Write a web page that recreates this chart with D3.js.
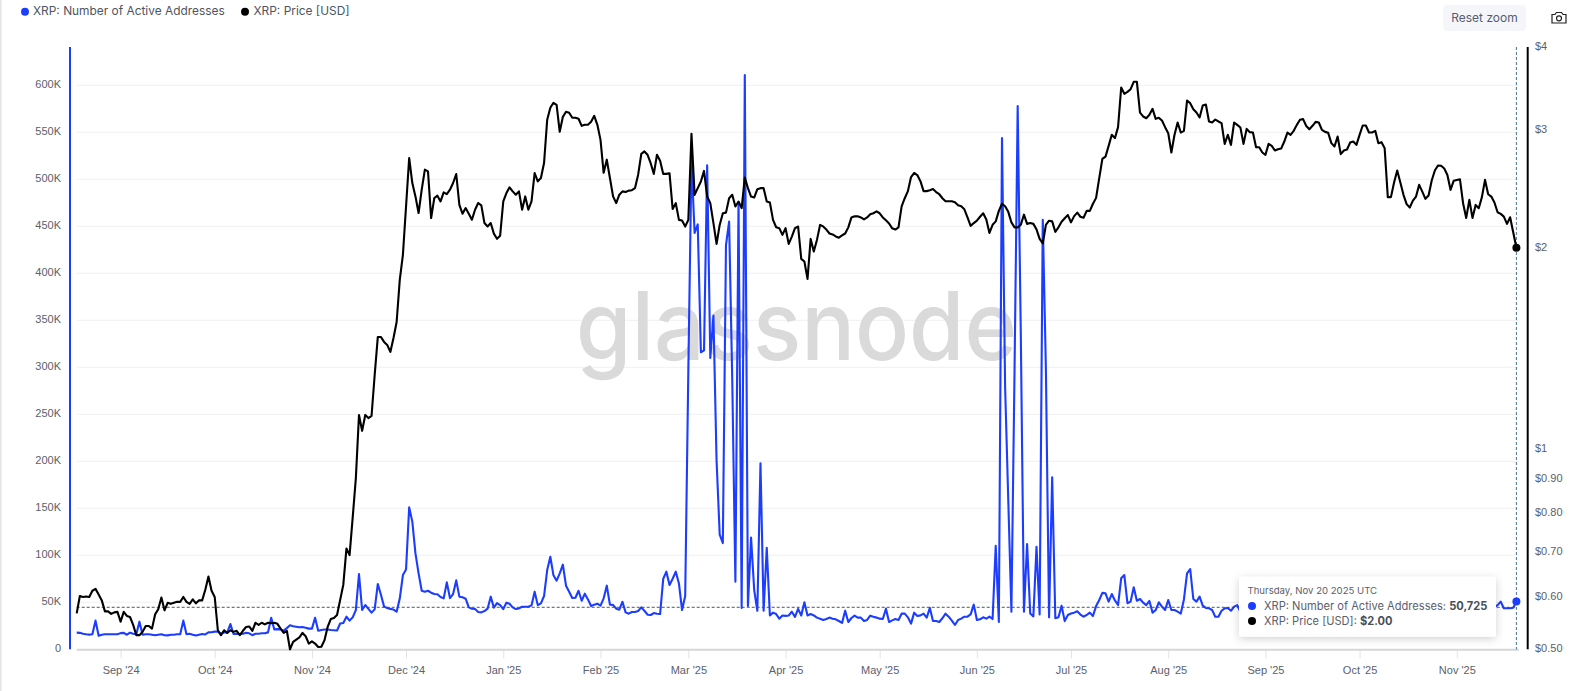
<!DOCTYPE html>
<html>
<head>
<meta charset="utf-8">
<style>
html,body{margin:0;padding:0;background:#fff;overflow:hidden}
svg{display:block;font-family:Inter,"Noto Sans",sans-serif}
</style>
<script src="https://d3js.org/d3.v7.min.js"></script>
</head>
<body>
<svg id="c" width="1579" height="691"></svg>
<script>
const startDate = "2024-08-18";
const endDate = "2025-11-20";
const monthTicks = ["2024-09-01","2024-10-01","2024-11-01","2024-12-01","2025-01-01","2025-02-01","2025-03-01","2025-04-01","2025-05-01","2025-06-01","2025-07-01","2025-08-01","2025-09-01","2025-10-01","2025-11-01"];
const leftTicks = [0,50,100,150,200,250,300,350,400,450,500,550,600];
const rightTicks = [0.5,0.6,0.7,0.8,0.9,1,2,3,4];
const rightTickLabels = ["$0.50","$0.60","$0.70","$0.80","$0.90","$1","$2","$3","$4"];
const crosshairActiveK = 44.7;
const seriesNames = ["XRP: Number of Active Addresses","XRP: Price [USD]"];
const tooltipDate = "Thursday, Nov 20 2025 UTC";
const tooltipValues = ["50,725","$2.00"];

// thousands of active addresses, one per day
const activeK = [
17.7,17.5,16.5,16,15.6,16,30.5,14.5,15.5,16,
16,16,16,16,17.2,17.5,15.5,17.7,16.5,16,
29.4,15.5,16,16,15.5,15,15.5,16,15,14.8,
15.5,15.5,16,16,30.5,16,16.5,15.5,14.7,15.5,
16.2,15.8,18,18.2,18.8,18.8,16.5,17.8,18,26.9,
16.3,16.5,16,16.5,17.5,17,15,16.5,16.5,17,
17,18,33.6,21.2,21.5,21.2,19.8,22.5,25.5,24.5,
24,23.5,23.8,23,22,22,33.6,19.8,20.5,21,
21,20.5,20.3,20,27.5,28,34.7,30.5,34,41.8,
80,41.8,47.1,43,39,42.5,69.5,58,45.4,44,
43,42.3,40,54,79,85,151,135.8,102,80.8,
62.3,61.3,62.3,60.2,58.8,58.5,55.6,54.2,71.2,54.5,
58.8,73.3,56,55.3,53.8,44.6,43.2,42.8,39.7,39.3,
40.7,43.2,56,44.3,49.2,47,42.8,49.6,48.5,44.6,
42.8,43.5,45.3,45.3,45.3,46.7,61.3,47,48.9,56.7,
84.3,98.5,78.7,73,80.8,90,67.7,61.3,54.5,54.9,
62.3,51.7,59.2,53.1,46,47.5,48.5,46.4,54.2,67.7,
47.5,47.1,43.2,42.1,50.6,39.3,37.9,39.7,39.7,40.7,
44.6,41,36.8,36.5,38.6,37.9,37.5,75.1,82.6,68.4,
75.1,82.6,70.1,41.8,56.7,297,520,443,452,316,
318,515,310,355,201,122,113,430,455,287,
72,475,44,611,46,119,63,41,198,41,
108,36,39,37.5,32.5,36,35.6,36,40,34.5,
43,36,50,36,37.5,36,33.7,32.5,31.2,32.2,
33.7,32.6,31.9,30.1,28,41.1,29,33.3,35.8,33.7,
33.7,30.1,31.2,35.8,34.7,33.7,32.6,32.2,43.2,29,
30.8,32.2,31.2,37.9,37.9,34,27.3,39,35.4,36.1,
37.9,33.7,44,30.1,30.1,29,33,37.9,34.7,30.5,
25.9,31.2,32.6,34.7,34.7,37.2,47.5,31.2,31.9,34,
32.6,34.7,32.2,110,29,544,278,159,40,297,
578,334,40,112,38,35,109,37,457,297,
34,183,33,34,46.4,30,36.5,38,39,40.4,
37,34.7,36.5,39,35.4,46,52.4,60,59.5,50.7,
58.8,52,47.1,75.5,79,49,50.7,66,51.7,53.5,
49.6,47,51.4,39,41.8,50,45.4,41.8,52.4,41.8,
41.8,40,38,53,80.8,85.4,53.5,50.7,56,46.4,
44,43.6,41.8,34.7,34.7,41,43.6,44,41,45.4,
47,40,44,46,42,48,45,41,47,43,
49,44,46,51,42,45,48,43,46,50,
44,42,47,52,45,43,49,46,41,45,
48,44,50,43,46,53,47,42,45,49,
44,47,52,43,41,48,46,50,45,43,
47,54,46,44,42,49,45,48,51,43,
46,44,50,47,42,45,52,48,43,46,
49,44,47,42,46,51,45,43,48,46,
44,49,45,47,50.7,43.6,43.6,43.6,44.3,50.725
];

// USD, one per day
const priceUsd = [
.566,.601,.599,.600,.599,.612,.616,.604,.592,.570,
.570,.565,.568,.569,.550,.569,.561,.559,.544,.525,
.525,.531,.542,.542,.537,.564,.574,.598,.572,.587,
.585,.587,.589,.589,.599,.589,.585,.594,.586,.592,
.592,.614,.643,.612,.599,.534,.525,.534,.529,.534,
.531,.533,.525,.533,.540,.541,.533,.548,.544,.548,
.545,.548,.547,.548,.546,.537,.529,.533,.500,.513,
.517,.521,.529,.523,.510,.514,.510,.504,.5045,.516,
.540,.555,.557,.563,.593,.625,.708,.692,.789,.903,
1.123,1.063,1.123,1.111,1.119,1.289,1.470,1.470,1.445,1.43,
1.396,1.465,1.548,1.79,1.952,2.306,2.727,2.501,2.388,2.255,
2.444,2.619,2.604,2.216,2.374,2.394,2.347,2.421,2.407,2.444,
2.501,2.580,2.320,2.250,2.294,2.250,2.203,2.281,2.334,2.315,
2.178,2.153,2.178,2.100,2.063,2.085,2.347,2.416,2.464,2.430,
2.402,2.430,2.281,2.388,2.281,2.347,2.589,2.515,2.545,2.680,
3.111,3.243,3.299,3.276,2.985,3.143,3.198,3.187,3.133,3.133,
3.122,3.047,3.058,3.058,3.090,3.154,3.058,2.903,2.591,2.711,
2.545,2.388,2.334,2.402,2.430,2.424,2.436,2.44,2.458,2.574,
2.766,2.789,2.757,2.678,2.581,2.757,2.700,2.581,2.581,2.587,
2.287,2.333,2.202,2.197,2.152,2.202,2.964,2.401,2.457,2.514,
2.608,2.387,2.333,2.177,2.027,2.164,2.253,2.258,2.373,2.401,
2.306,2.346,2.293,2.549,2.457,2.387,2.379,2.448,2.457,2.457,
2.346,2.338,2.202,2.147,2.140,2.091,2.140,2.027,2.079,2.140,
2.152,1.925,1.907,1.796,2.062,1.974,2.055,2.164,2.153,2.130,
2.101,2.094,2.080,2.071,2.087,2.101,2.146,2.221,2.229,2.229,
2.221,2.206,2.221,2.245,2.253,2.268,2.253,2.221,2.199,2.175,
2.139,2.130,2.146,2.308,2.373,2.432,2.553,2.589,2.571,2.517,
2.432,2.432,2.440,2.449,2.424,2.406,2.373,2.348,2.348,2.348,
2.340,2.316,2.308,2.284,2.221,2.157,2.178,2.196,2.226,2.253,
2.205,2.105,2.165,2.191,2.272,2.328,2.308,2.264,2.183,2.146,
2.146,2.165,2.242,2.172,2.178,2.172,2.131,2.062,2.030,2.165,
2.196,2.191,2.113,2.146,2.188,2.215,2.239,2.183,2.231,2.258,
2.226,2.218,2.272,2.272,2.328,2.376,2.543,2.718,2.740,2.843,
2.954,2.920,3.033,3.478,3.403,3.426,3.458,3.547,3.547,3.190,
3.147,3.128,3.165,3.231,3.121,3.132,3.104,3.033,2.971,2.779,
2.954,3.082,2.977,2.995,3.325,3.295,3.227,3.190,3.136,3.268,
3.280,3.093,3.082,3.114,3.093,3.075,2.863,2.954,2.853,3.082,
3.057,3.029,2.863,3.015,2.981,2.977,2.830,2.830,2.779,2.757,
2.863,2.843,2.798,2.811,2.817,2.886,2.977,2.954,2.995,3.057,
3.111,3.118,3.045,3.012,3.047,3.089,3.082,3.005,2.984,2.974,
2.870,2.837,2.937,2.763,2.798,2.808,2.876,2.886,2.853,2.953,
3.050,3.050,2.978,2.978,2.995,2.870,2.880,2.821,2.382,2.382,
2.505,2.611,2.505,2.401,2.325,2.298,2.354,2.387,2.485,2.428,
2.368,2.395,2.523,2.611,2.657,2.654,2.629,2.572,2.443,2.520,
2.528,2.534,2.333,2.217,2.360,2.217,2.319,2.293,2.382,2.528,
2.406,2.387,2.338,2.261,2.248,2.227,2.172,2.222,2.108,2.00
];

const blue = "#1c3dff", black = "#000", tickGrey = "#5b606b";
const plot = {left:76.7, right:1516.4, top:47, bottom:649.3, gridRight:1519};
const d0 = new Date(startDate+"T00:00:00Z"), d1 = new Date(endDate+"T00:00:00Z");
const x = d3.scaleUtc().domain([d0,d1]).range([plot.left,plot.right]);
const yL = d3.scaleLinear().domain([0,(plot.bottom-plot.top)/0.94]).range([plot.bottom,plot.top]);
const yR = d3.scaleLog().domain([0.5,4]).range([plot.bottom,plot.top]);
const dates = activeK.map((_,i)=>d3.utcDay.offset(d0,i));
const svg = d3.select("#c");

// page edge
svg.append("rect").attr("x",0).attr("y",0).attr("width",1.5).attr("height",691).attr("fill","#e4e4e4");

// gridlines
svg.append("g").selectAll("line").data(leftTicks.filter(t=>t>0)).join("line")
  .attr("x1",plot.left).attr("x2",plot.gridRight)
  .attr("y1",d=>yL(d)).attr("y2",d=>yL(d))
  .attr("stroke","#f0f0f2").attr("stroke-width",1);

// watermark
svg.append("text").text("glassnode")
  .attr("x",576).attr("y",360).attr("font-size",95).attr("textLength",441)
  .attr("lengthAdjust","spacingAndGlyphs")
  .attr("fill","#dadada").attr("font-family","Inter,sans-serif").attr("font-weight",500);

// left axis
const axL = d3.axisLeft(yL).tickValues(leftTicks).tickSize(0).tickPadding(0).tickFormat(d=>d===0?"0":d+"K");
const gL = svg.append("g").attr("transform","translate(61,-1)").call(axL);
gL.select(".domain").remove();
gL.selectAll("text").attr("font-family",null).attr("font-size",11).attr("fill",tickGrey);
svg.append("line").attr("x1",70).attr("x2",70).attr("y1",plot.top).attr("y2",plot.bottom)
  .attr("stroke",blue).attr("stroke-width",2);

// right axis
const axR = d3.axisRight(yR).tickValues(rightTicks).tickSize(0).tickPadding(0)
  .tickFormat(d=>rightTickLabels[rightTicks.indexOf(d)]);
const gR = svg.append("g").attr("transform","translate(1535,-1)").call(axR);
gR.select(".domain").remove();
gR.selectAll("text").attr("font-family",null).attr("font-size",11).attr("fill",tickGrey);
svg.append("line").attr("x1",1527.7).attr("x2",1527.7).attr("y1",plot.top).attr("y2",plot.bottom)
  .attr("stroke",black).attr("stroke-width",2);

// x axis
const axX = d3.axisBottom(x).tickValues(monthTicks.map(s=>new Date(s+"T00:00:00Z")))
  .tickSize(9).tickPadding(8).tickFormat(d3.utcFormat("%b '%y"));
const gX = svg.append("g").attr("transform",`translate(0,${plot.bottom})`).call(axX);
gX.select(".domain").remove();
gX.selectAll("line").attr("stroke","#e3e3e6");
gX.selectAll("text").attr("font-family",null).attr("font-size",11).attr("fill",tickGrey);
svg.append("line").attr("x1",plot.left).attr("x2",plot.gridRight).attr("y1",plot.bottom+0.5).attr("y2",plot.bottom+0.5)
  .attr("stroke","#d6d6d6").attr("stroke-width",2);

// crosshairs
svg.append("line").attr("x1",plot.left).attr("x2",plot.right).attr("y1",yL(crosshairActiveK)).attr("y2",yL(crosshairActiveK))
  .attr("stroke","#4a5560").attr("stroke-width",1).attr("stroke-dasharray","3,2");
svg.append("line").attr("x1",x(d1)).attr("x2",x(d1)).attr("y1",plot.top).attr("y2",plot.bottom)
  .attr("stroke","#4c7590").attr("stroke-width",1).attr("stroke-dasharray","3,2");

// series
const lineA = d3.line().x((d,i)=>x(dates[i])).y(d=>yL(d));
const lineP = d3.line().x((d,i)=>x(dates[i])).y(d=>yR(d));
svg.append("path").datum(activeK).attr("d",lineA).attr("fill","none").attr("stroke",blue).attr("stroke-width",2.1).attr("stroke-linejoin","round");
svg.append("path").datum(priceUsd).attr("d",lineP).attr("fill","none").attr("stroke",black).attr("stroke-width",2.1).attr("stroke-linejoin","round");
const n = activeK.length-1;
svg.append("circle").attr("cx",x(dates[n])).attr("cy",yL(activeK[n])).attr("r",4).attr("fill",blue);
svg.append("circle").attr("cx",x(dates[n])).attr("cy",yR(priceUsd[n])).attr("r",4).attr("fill",black);

// legend
const legend = svg.append("g").attr("font-size",11.9).attr("fill","#4f5560");
[[25,33],[245,253.5]].forEach(([cx,tx],i)=>{
  legend.append("circle").attr("cx",cx).attr("cy",11.7).attr("r",4).attr("fill",i?black:blue);
  legend.append("text").attr("x",tx).attr("y",15.3).text(seriesNames[i]);
});

// reset zoom button
svg.append("rect").attr("x",1443).attr("y",5).attr("width",83).attr("height",26).attr("rx",4).attr("fill","#f5f6f9");
svg.append("text").attr("x",1484.5).attr("y",22).attr("text-anchor","middle").attr("font-size",12).attr("fill","#565c72").text("Reset zoom");

// camera icon
const cam = svg.append("g").attr("fill","none").attr("stroke","#222").attr("stroke-width",1.2);
cam.append("path").attr("d","M1552 14.5h3l1.4-2h5.2l1.4 2h3v8.5h-14z");
cam.append("circle").attr("cx",1559).attr("cy",18.3).attr("r",2.5);

// tooltip
const defs = svg.append("defs");
const f = defs.append("filter").attr("id","sh").attr("x","-10%").attr("y","-30%").attr("width","120%").attr("height","170%");
f.append("feDropShadow").attr("dx",0).attr("dy",2).attr("stdDeviation",4).attr("flood-color","#000").attr("flood-opacity",0.18);
const tip = svg.append("g");
tip.append("rect").attr("x",1239).attr("y",576.7).attr("width",257).attr("height",60).attr("rx",2).attr("fill","#fff").attr("filter","url(#sh)");
tip.append("text").attr("x",1247.5).attr("y",593.5).attr("font-size",9.6).attr("fill","#5b606b").text(tooltipDate);
[[606],[621]].forEach(([cy],i)=>{
  tip.append("circle").attr("cx",1252).attr("cy",cy).attr("r",4).attr("fill",i?black:blue);
  const t = tip.append("text").attr("x",1264).attr("y",cy+4).attr("font-size",11.1).attr("fill","#5b606b");
  t.append("tspan").text(seriesNames[i]+": ");
  t.append("tspan").attr("font-weight",700).attr("fill","#4a4f58").text(tooltipValues[i]);
});
</script>
</body>
</html>
